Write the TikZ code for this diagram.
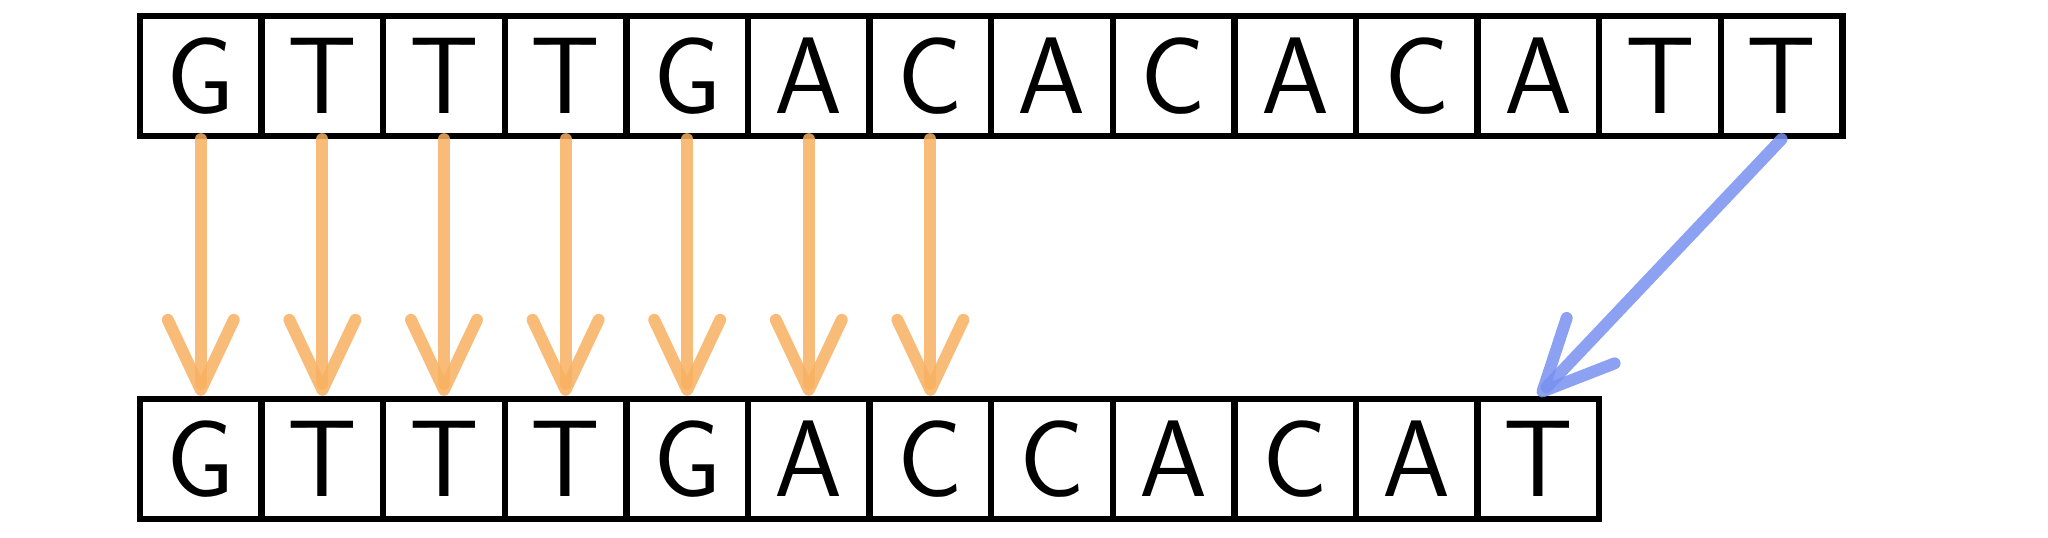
\documentclass[tikz,border=0pt]{standalone}
\usetikzlibrary{arrows.meta}

\definecolor{copyorange}{RGB}{248,176,96}
\definecolor{moveblue}{RGB}{120,144,240}

\tikzset{
cell/.style={draw=black,line width=1.8pt,minimum width=1.216cm,minimum height=1.2cm,inner sep=0pt,font=\fontsize{31}{34}\selectfont\sffamily},
copyarrow/.style={draw=copyorange,opacity=0.85,line width=3.4pt,line cap=round,-{Straight Barb[length=7mm,width=6.6mm,round]}},
movearrow/.style={draw=moveblue,opacity=0.85,line width=3.4pt,line cap=round,-{Straight Barb[length=7mm,width=6.6mm,round]}}
}

\begin{document}
\begin{tikzpicture}
\useasboundingbox (0,0) rectangle (20.48,5.38);
% top row
\foreach \base [count=\i] in {G,T,T,T,G,A,C,A,C,A,C,A,T,T}
  \node[cell] (t\i) at ({1.40+(\i-0.5)*1.216},4.62) {\base};
% bottom row
\foreach \base [count=\i] in {G,T,T,T,G,A,C,C,A,C,A,T}
  \node[cell] (b\i) at ({1.40+(\i-0.5)*1.216},0.79) {\base};

\foreach \i in {1,...,7}
  \draw[copyarrow] (t\i.south) -- (b\i.north);
\draw[movearrow] (t14.south) -- (b12.north);

\end{tikzpicture}
\end{document}
